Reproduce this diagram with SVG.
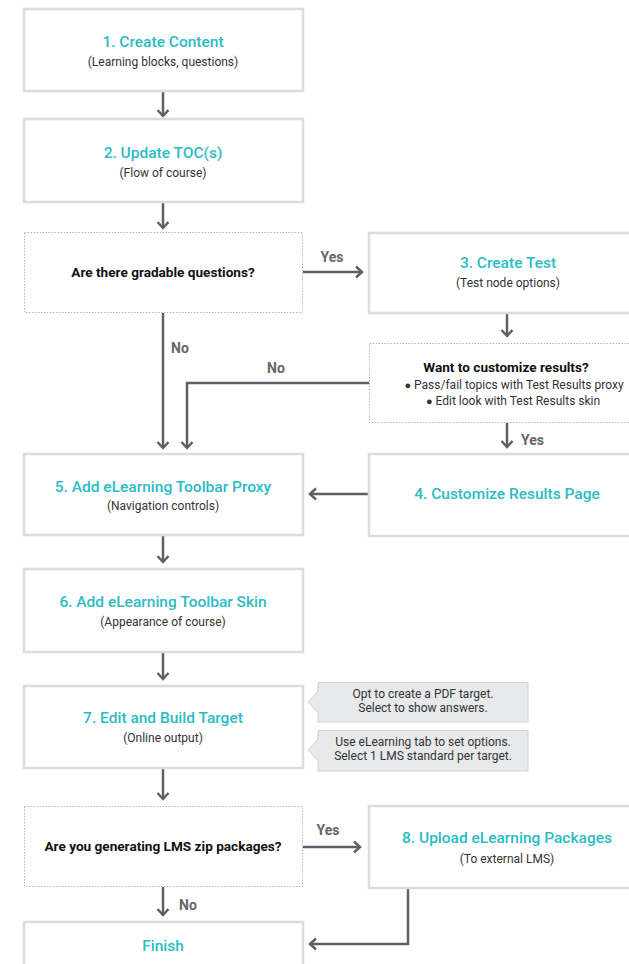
<svg xmlns="http://www.w3.org/2000/svg" width="629" height="964" viewBox="0 0 629 964">
<defs>
<style>
.box{fill:#fff;stroke:#dcdcdc;stroke-width:2.5}
.dec{fill:#fff;stroke:#b5b5b5;stroke-width:1;stroke-dasharray:1.5 1.5}
.title{font-family:Roboto,"Liberation Sans",sans-serif;font-size:15.5px;font-weight:500;fill:#2bbcc4;text-anchor:middle}
.sub{font-family:Roboto,"Liberation Sans",sans-serif;font-size:12px;fill:#333;text-anchor:middle}
.q{font-family:Roboto,"Liberation Sans",sans-serif;font-size:13.6px;font-weight:700;fill:#111;text-anchor:middle}
.lbl{font-family:Roboto,"Liberation Sans",sans-serif;font-size:14px;font-weight:700;fill:#666}
.conn{fill:none;stroke:#5d6166;stroke-width:2.5}
.call{fill:#e8e9ea;stroke:#d2d2d2;stroke-width:1}
</style>
<marker id="ah" markerUnits="userSpaceOnUse" markerWidth="14" markerHeight="14" viewBox="-7 -7 14 14" refX="0" refY="0" orient="auto">
<path d="M-6,-5.5 L0,0 L-6,5.5" fill="none" stroke="#5d6166" stroke-width="2.5"/>
</marker>
</defs>
<rect width="629" height="964" fill="#fff"/>

<g id="connectors">
<path class="conn" d="M163,91 V116" marker-end="url(#ah)"/>
<path class="conn" d="M163,202 V228" marker-end="url(#ah)"/>
<path class="conn" d="M303,272 H362" marker-end="url(#ah)"/>
<path class="conn" d="M507,313 V336" marker-end="url(#ah)"/>
<path class="conn" d="M163,313 V448" marker-end="url(#ah)"/>
<path class="conn" d="M369,383 H187 V448" marker-end="url(#ah)"/>
<path class="conn" d="M507,423 V447" marker-end="url(#ah)"/>
<path class="conn" d="M368,494 H310" marker-end="url(#ah)"/>
<path class="conn" d="M163,535 V562" marker-end="url(#ah)"/>
<path class="conn" d="M163,652 V679" marker-end="url(#ah)"/>
<path class="conn" d="M163,768 V799" marker-end="url(#ah)"/>
<path class="conn" d="M303,847 H360" marker-end="url(#ah)"/>
<path class="conn" d="M163,887 V915" marker-end="url(#ah)"/>
<path class="conn" d="M408,888 V944 H310" marker-end="url(#ah)"/>
<text class="lbl" x="332" y="262" text-anchor="middle">Yes</text>
<text class="lbl" x="171" y="353">No</text>
<text class="lbl" x="276" y="373" text-anchor="middle">No</text>
<text class="lbl" x="521" y="445">Yes</text>
<text class="lbl" x="328" y="835" text-anchor="middle">Yes</text>
<text class="lbl" x="179" y="910">No</text>
</g>

<g id="n1">
<rect class="box" x="24" y="9" width="279" height="82"/>
<text class="title" x="163" y="47">1. Create Content</text>
<text class="sub" x="163" y="66">(Learning blocks, questions)</text>
</g>
<g id="n2">
<rect class="box" x="24" y="119" width="279" height="83"/>
<text class="title" x="163" y="158">2. Update TOC(s)</text>
<text class="sub" x="163" y="177">(Flow of course)</text>
</g>
<g id="d1">
<rect class="dec" x="24.5" y="232.5" width="278" height="80"/>
<text class="q" x="163" y="277">Are there gradable questions?</text>
</g>
<g id="n3">
<rect class="box" x="369" y="233" width="270" height="80"/>
<text class="title" x="508" y="268">3. Create Test</text>
<text class="sub" x="508" y="287">(Test node options)</text>
</g>
<g id="d2">
<rect class="dec" x="369.5" y="343.5" width="270" height="79"/>
<text class="q" x="506" y="372">Want to customize results?</text>
<text class="sub" x="514" y="389"><tspan font-size="11">●</tspan> Pass/fail topics with Test Results proxy</text>
<text class="sub" x="513" y="405"><tspan font-size="11">●</tspan> Edit look with Test Results skin</text>
</g>
<g id="n5">
<rect class="box" x="24" y="454" width="279" height="81"/>
<text class="title" x="163" y="492">5. Add eLearning Toolbar Proxy</text>
<text class="sub" x="163" y="510">(Navigation controls)</text>
</g>
<g id="n4">
<rect class="box" x="369" y="454" width="270" height="82"/>
<text class="title" x="507" y="499">4. Customize Results Page</text>
</g>
<g id="n6">
<rect class="box" x="24" y="569" width="279" height="83"/>
<text class="title" x="163" y="607">6. Add eLearning Toolbar Skin</text>
<text class="sub" x="163" y="626">(Appearance of course)</text>
</g>
<g id="n7">
<rect class="box" x="24" y="686" width="279" height="82"/>
<text class="title" x="163" y="723">7. Edit and Build Target</text>
<text class="sub" x="163" y="742">(Online output)</text>
</g>
<g id="c1">
<path class="call" d="M318,682.5 H528 V722 H318 V713 L308,702 L318,691 Z"/>
<text class="sub" x="423" y="698">Opt to create a PDF target.</text>
<text class="sub" x="423" y="712">Select to show answers.</text>
</g>
<g id="c2">
<path class="call" d="M318,730.5 H528 V771 H318 V761 L308,750 L318,739 Z"/>
<text class="sub" x="423" y="746">Use eLearning tab to set options.</text>
<text class="sub" x="423" y="760">Select 1 LMS standard per target.</text>
</g>
<g id="d3">
<rect class="dec" x="24.5" y="806.5" width="278" height="80"/>
<text class="q" x="163" y="851">Are you generating LMS zip packages?</text>
</g>
<g id="n8">
<rect class="box" x="369" y="806" width="270" height="82"/>
<text class="title" x="507" y="843">8. Upload eLearning Packages</text>
<text class="sub" x="507" y="863">(To external LMS)</text>
</g>
<g id="finish">
<rect class="box" x="24" y="922" width="279" height="60"/>
<text class="title" x="163" y="951">Finish</text>
</g>
</svg>
